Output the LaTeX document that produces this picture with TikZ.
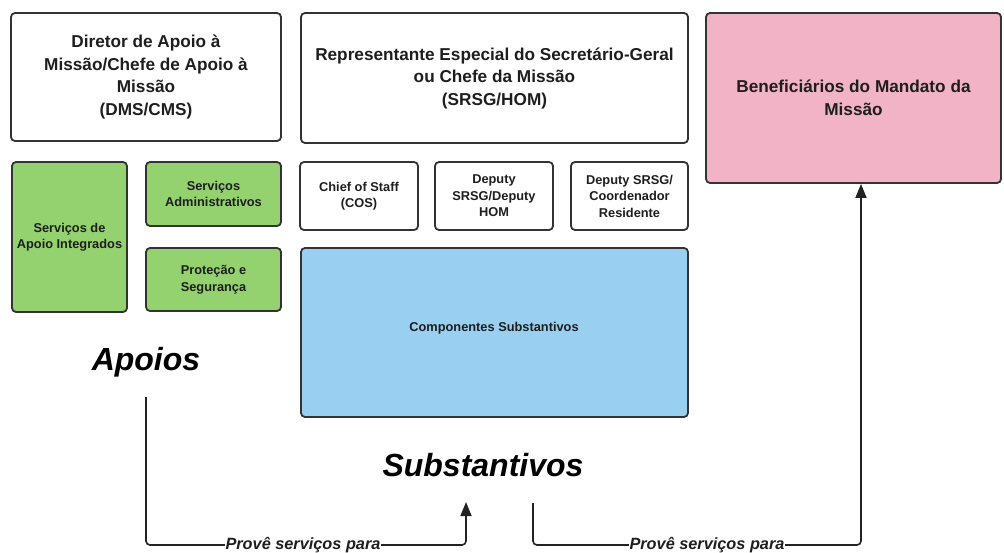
\documentclass[tikz,border=0pt]{standalone}
\usepackage{fontspec}
\setmainfont{Liberation Sans}
\usetikzlibrary{arrows.meta}
\definecolor{boxline}{HTML}{333333}
\definecolor{connline}{HTML}{222222}
\definecolor{greenfill}{HTML}{93D26E}
\definecolor{pinkfill}{HTML}{F2B3C6}
\definecolor{bluefill}{HTML}{99CFF1}
\definecolor{txt}{HTML}{1E1E1E}
\tikzset{
  x=1pt,y=-1pt,
  boxbase/.style={draw=boxline,line width=1.8pt,rounded corners=4pt,inner sep=2pt,align=center,text=txt,font=\bfseries},
  bigbox/.style={boxbase,fill=white,font=\bfseries\fontsize{17.2}{22.5}\selectfont},
  smallbox/.style={boxbase,fill=white,font=\bfseries\fontsize{12.8}{16.5}\selectfont},
  greenbox/.style={smallbox,fill=greenfill},
  bigword/.style={font=\bfseries\itshape\fontsize{32}{38}\selectfont,text=black},
  conn/.style={draw=connline,line width=1.6pt,rounded corners=4pt},
  connarrow/.style={conn,-{Triangle[length=14pt,width=11pt]}},
  connlabel/.style={fill=white,inner sep=1pt,font=\bfseries\itshape\fontsize{16.3}{19}\selectfont,text=txt}
}
\begin{document}
\begin{tikzpicture}
\useasboundingbox (0,0) rectangle (1004,552);
\fill[white] (0,0) rectangle (1004,552);

\node[bigbox,minimum width=270,minimum height=128] (dms) at (146,77)
  {Diretor de Apoio à\\Missão/Chefe de Apoio à\\Missão\\(DMS/CMS)};
\node[bigbox,minimum width=387,minimum height=130] (srsg) at (494.5,78)
  {Representante Especial do Secretário-Geral\\ou Chefe da Missão\\(SRSG/HOM)};
\node[bigbox,fill=pinkfill,minimum width=295,minimum height=170] (benef) at (853.5,98)
  {Beneficiários do Mandato da\\Missão};

\node[greenbox,minimum width=115,minimum height=150] (sai) at (69.5,237)
  {Serviços de\\Apoio Integrados};
\node[greenbox,minimum width=135,minimum height=64] (sadm) at (213.5,194)
  {Serviços\\Administrativos};
\node[greenbox,minimum width=135,minimum height=63] (prot) at (213.5,279.5)
  {Proteção e\\Segurança};

\node[smallbox,minimum width=118,minimum height=68] (cos) at (359,196)
  {Chief of Staff\\(COS)};
\node[smallbox,minimum width=118,minimum height=68] (dep) at (494,196)
  {Deputy\\SRSG/Deputy\\HOM};
\node[smallbox,minimum width=117,minimum height=68] (deprc) at (629.5,196)
  {Deputy SRSG/\\Coordenador\\Residente};

\node[smallbox,fill=bluefill,minimum width=387,minimum height=169] (comp) at (494.5,332.5) {};
\node[font=\bfseries\fontsize{12.8}{16.5}\selectfont,text=txt] (comptxt) at (494,328) {Componentes Substantivos};

\node[bigword] (apoios) at (146,362) {Apoios};
\node[bigword] (subst) at (483,465) {Substantivos};

\coordinate (a1start) at (146,397);
\coordinate (a1end) at (466,502);
\coordinate (a2start) at (533,503);

\draw[connarrow] (a1start) |- (303,545) -| (a1end);
\draw[connarrow] (a2start) |- (707,545) -| (benef.south -| 861,0);
\node[connlabel] (lab1) at (303,545) {Provê serviços para};
\node[connlabel] (lab2) at (707,545) {Provê serviços para};
\end{tikzpicture}
\end{document}
